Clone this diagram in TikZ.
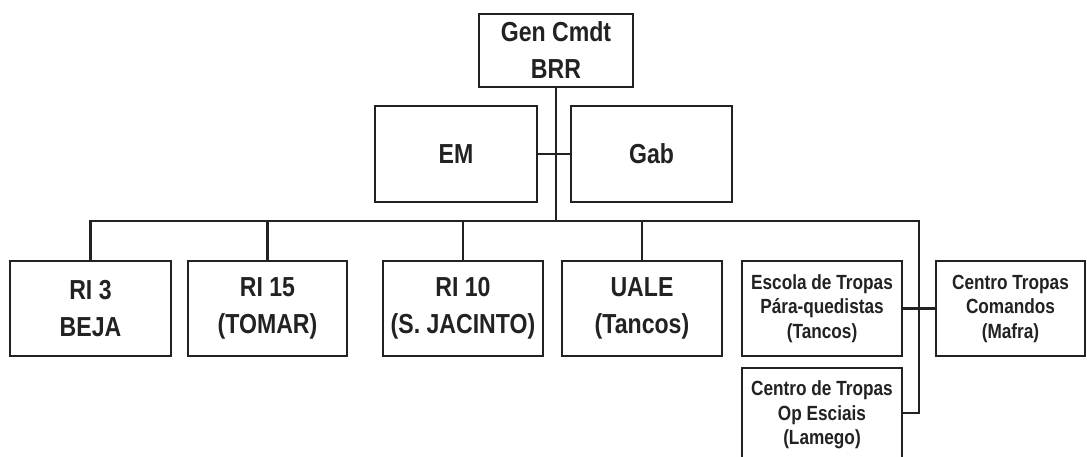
\documentclass[tikz,border=0pt]{standalone}
\usepackage{fontspec}
\setmainfont{Liberation Sans}[FakeStretch=0.84]
\usepackage{tikz}
\usetikzlibrary{positioning}
\definecolor{ink}{RGB}{34,34,34}
\tikzset{
  unit/.style={draw=ink,line width=2.5pt,fill=white,align=center,text=ink,
    font=\bfseries\fontsize{27.5}{37}\selectfont,inner sep=0pt},
  smallunit/.style={unit,font=\bfseries\fontsize{20.5}{24.5}\selectfont},
  link/.style={draw=ink,line width=2.2pt}
}
\begin{document}
\begin{tikzpicture}[x=1pt,y=-1pt]
		\useasboundingbox (0,0) rectangle (1087,457);
		\clip (0,0) rectangle (1087,457);
		\node[unit,minimum width=154pt,minimum height=73pt] (gen) at (556,50.5) {Gen Cmdt\\BRR};
		\node[unit,minimum width=162pt,minimum height=96pt] (em) at (456,154) {EM};
		\node[unit,minimum width=161pt,minimum height=96pt] (gab) at (651.5,154) {Gab};
		\node[unit,minimum width=161pt,minimum height=95pt] (ri3) at (90.5,308.5) {RI 3\\BEJA};
		\node[unit,minimum width=159pt,minimum height=95pt] (ri15) at (267.5,308.5) {RI 15\\(TOMAR)};
		\node[unit,minimum width=160pt,minimum height=95pt] (ri10) at (463,308.5) {RI 10\\(S. JACINTO)};
		\node[unit,minimum width=160pt,minimum height=95pt] (uale) at (642,308.5) {UALE\\(Tancos)};
		\node[smallunit,minimum width=160pt,minimum height=95pt] (escola) at (822,308.5) {Escola de Tropas\\Pára-quedistas\\(Tancos)};
		\node[smallunit,minimum width=149pt,minimum height=95pt] (cmd) at (1010.5,308.5) {Centro Tropas\\Comandos\\(Mafra)};
		\node[smallunit,minimum width=160pt,minimum height=90pt,text depth=0pt] (op) at (822,413) {Centro de Tropas\\Op Esciais\\(Lamego)};
		\coordinate (bus) at (556,221);
		\coordinate (busR) at (919,221);
		\draw[link] (gen.south) -- (bus);
		\draw[link] (em.east) -- (gab.west);
		\draw[link] (ri3.north) |- (busR) |- (op.east);
		\draw[link] (ri15.north) -- (ri15 |- bus);
		\draw[link] (ri10.north) -- (ri10 |- bus);
		\draw[link] (uale.north) -- (uale |- bus);
		\draw[link] (escola.east) -- (cmd.west);
\end{tikzpicture}
\end{document}
